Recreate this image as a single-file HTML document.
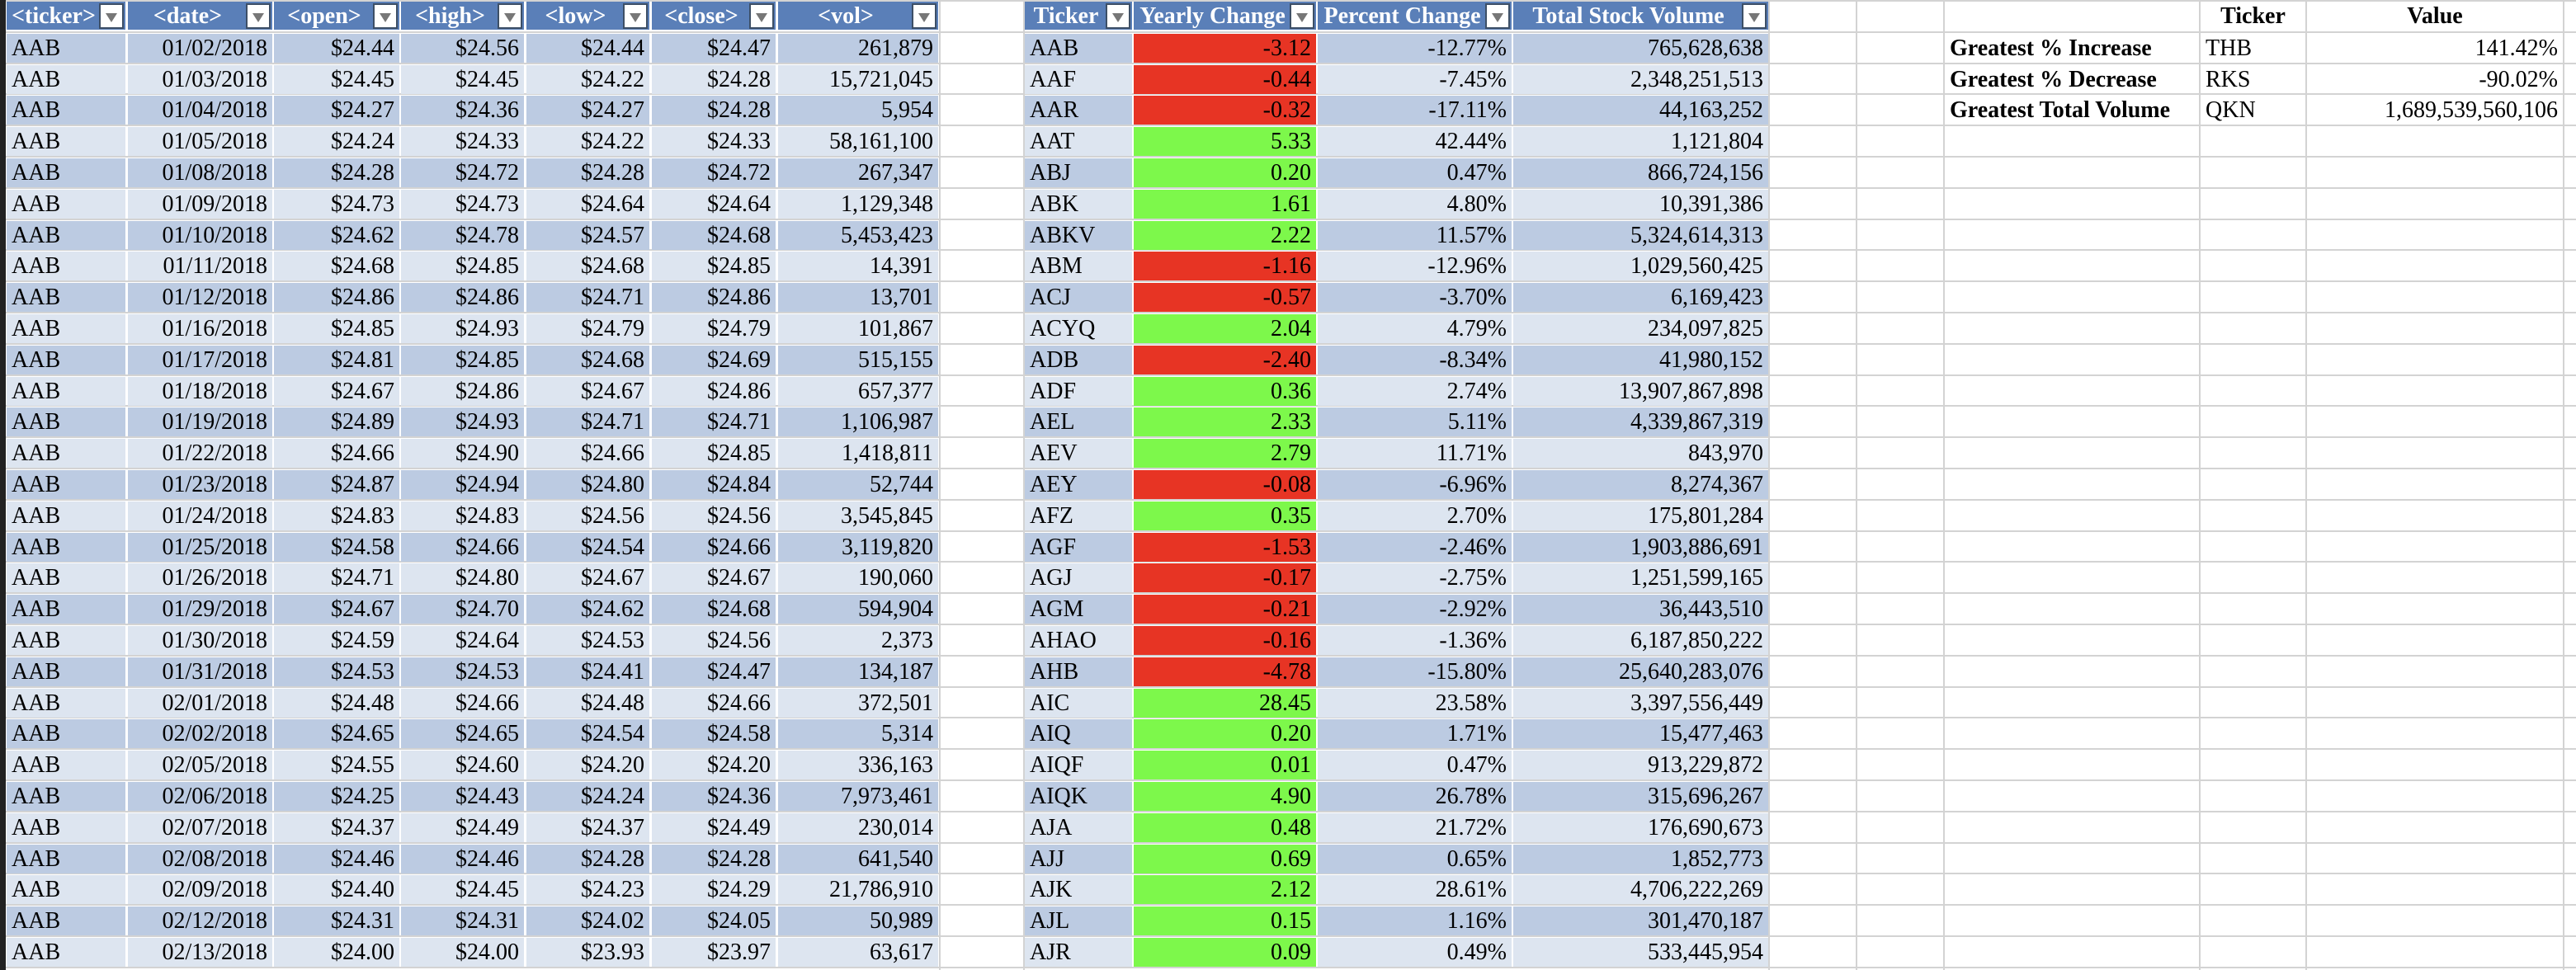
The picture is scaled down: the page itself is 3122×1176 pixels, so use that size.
<!DOCTYPE html>
<html><head><meta charset="utf-8"><style>
body{margin:0;width:3122px;height:1176px;overflow:hidden;background:#fff;font-family:"Liberation Serif",serif;position:relative}
.c{position:absolute;box-sizing:border-box;font-size:28px;line-height:35px;white-space:nowrap;overflow:hidden;color:#000;padding:0 6px}
.r{text-align:right}
.h{background:#5a7fb8;color:#fff;font-weight:bold;text-align:center;padding-right:36px}
.dd{position:absolute;width:30px;height:31px;background:#fff;border:2px solid #3d4f66;box-sizing:border-box;top:2px}
.dd:after{content:"";position:absolute;left:6px;top:10px;border-left:7px solid transparent;border-right:7px solid transparent;border-top:11px solid #777}
.g{position:absolute;background:#d3d3d3}
</style></head><body>
<div class="g" style="left:0;top:0;width:7px;height:1176px;background:#222"></div>
<script>
const leftTickers=Array(30).fill('AAB');
const dates=['01/02/2018','01/03/2018','01/04/2018','01/05/2018','01/08/2018','01/09/2018','01/10/2018','01/11/2018','01/12/2018','01/16/2018','01/17/2018','01/18/2018','01/19/2018','01/22/2018','01/23/2018','01/24/2018','01/25/2018','01/26/2018','01/29/2018','01/30/2018','01/31/2018','02/01/2018','02/02/2018','02/05/2018','02/06/2018','02/07/2018','02/08/2018','02/09/2018','02/12/2018','02/13/2018'];
const opens=['24.44','24.45','24.27','24.24','24.28','24.73','24.62','24.68','24.86','24.85','24.81','24.67','24.89','24.66','24.87','24.83','24.58','24.71','24.67','24.59','24.53','24.48','24.65','24.55','24.25','24.37','24.46','24.40','24.31','24.00'];
const highs=['24.56','24.45','24.36','24.33','24.72','24.73','24.78','24.85','24.86','24.93','24.85','24.86','24.93','24.90','24.94','24.83','24.66','24.80','24.70','24.64','24.53','24.66','24.65','24.60','24.43','24.49','24.46','24.45','24.31','24.00'];
const lows=['24.44','24.22','24.27','24.22','24.28','24.64','24.57','24.68','24.71','24.79','24.68','24.67','24.71','24.66','24.80','24.56','24.54','24.67','24.62','24.53','24.41','24.48','24.54','24.20','24.24','24.37','24.28','24.23','24.02','23.93'];
const closes=['24.47','24.28','24.28','24.33','24.72','24.64','24.68','24.85','24.86','24.79','24.69','24.86','24.71','24.85','24.84','24.56','24.66','24.67','24.68','24.56','24.47','24.66','24.58','24.20','24.36','24.49','24.28','24.29','24.05','23.97'];
const vols=['261,879','15,721,045','5,954','58,161,100','267,347','1,129,348','5,453,423','14,391','13,701','101,867','515,155','657,377','1,106,987','1,418,811','52,744','3,545,845','3,119,820','190,060','594,904','2,373','134,187','372,501','5,314','336,163','7,973,461','230,014','641,540','21,786,910','50,989','63,617'];
const tickers=['AAB','AAF','AAR','AAT','ABJ','ABK','ABKV','ABM','ACJ','ACYQ','ADB','ADF','AEL','AEV','AEY','AFZ','AGF','AGJ','AGM','AHAO','AHB','AIC','AIQ','AIQF','AIQK','AJA','AJJ','AJK','AJL','AJR'];
const yearly=[-3.12,-0.44,-0.32,5.33,0.20,1.61,2.22,-1.16,-0.57,2.04,-2.40,0.36,2.33,2.79,-0.08,0.35,-1.53,-0.17,-0.21,-0.16,-4.78,28.45,0.20,0.01,4.90,0.48,0.69,2.12,0.15,0.09];
const pct=['-12.77%','-7.45%','-17.11%','42.44%','0.47%','4.80%','11.57%','-12.96%','-3.70%','4.79%','-8.34%','2.74%','5.11%','11.71%','-6.96%','2.70%','-2.46%','-2.75%','-2.92%','-1.36%','-15.80%','23.58%','1.71%','0.47%','26.78%','21.72%','0.65%','28.61%','1.16%','0.49%'];
const totals=['765,628,638','2,348,251,513','44,163,252','1,121,804','866,724,156','10,391,386','5,324,614,313','1,029,560,425','6,169,423','234,097,825','41,980,152','13,907,867,898','4,339,867,319','843,970','8,274,367','175,801,284','1,903,886,691','1,251,599,165','36,443,510','6,187,850,222','25,640,283,076','3,397,556,449','15,477,463','913,229,872','315,696,267','176,690,673','1,852,773','4,706,222,269','301,470,187','533,445,954'];
const P=37.8, rowTop=i=>1+i*P;
function add(cls,x,y,w,h,txt,bg,name,inter){
  const d=document.createElement('div');d.className='c '+cls;
  d.style.cssText=`left:${x}px;top:${y}px;width:${w}px;height:${h}px;`+(bg?`background:${bg};`:'');
  d.textContent=txt;
  
  
  document.body.appendChild(d);return d;
}
const vx=[1138,1240,2143,2249,2355,2665,2794,3106];
for(const x of vx){const g=document.createElement('div');g.className='g';g.style.cssText=`left:${x}px;top:0;width:2px;height:1176px`;

document.body.appendChild(g);}
for(let i=0;i<=31;i++){const g=document.createElement('div');g.className='g';g.style.cssText=`left:7px;top:${Math.round(rowTop(i))-1}px;width:3115px;height:2px`;

document.body.appendChild(g);}
function table(cols,hdrs,data,prefix){
  cols.forEach((c,j)=>{
    const h=add('h',c[0],2,c[1]-c[0],34,hdrs[j],null,prefix+'-header-'+j,false);
    const dd=document.createElement('div');dd.className='dd';dd.style.left=(c[1]-c[0]-32)+'px';
    
    h.appendChild(dd);
  });
  for(let i=0;i<30;i++){
    const y=rowTop(i+1)+2, bg=i%2===0?'#bccbe2':'#dde5f0';
    cols.forEach((c,j)=>{
      let v=data[j][i], b=bg;
      if(c[2]==='yc'){b=v<0?'#e73424':'#7df84b';v=v.toFixed(2);}
      add(j===0?'':'r',c[0],y,c[1]-c[0],35,v,b,prefix+'-cell',false);
    });
  }
}
table([[8,152],[155,330],[332,484],[486,635],[638,787],[790,940],[943,1137]],
 ['<ticker>','<date>','<open>','<high>','<low>','<close>','<vol>'],
 [leftTickers,dates,opens.map(v=>'$'+v),highs.map(v=>'$'+v),lows.map(v=>'$'+v),closes.map(v=>'$'+v),vols],'stock-data');
table([[1242,1372],[1374,1595],[1597,1832],[1834,2143,'']].map((c,j)=>j===1?[c[0],c[1],'yc']:c),
 ['Ticker','Yearly Change','Percent Change','Total Stock Volume'],
 [tickers,yearly,pct,totals],'summary');
const gl=['Greatest % Increase','Greatest % Decrease','Greatest Total Volume'],gt=['THB','RKS','QKN'],gv=['141.42%','-90.02%','1,689,539,560,106'];
add('',2667,2,127,35,'Ticker',null,'greatest-ticker-header',false).style.cssText+='font-weight:bold;text-align:center';
add('',2796,2,310,35,'Value',null,'greatest-value-header',false).style.cssText+='font-weight:bold;text-align:center';
for(let i=0;i<3;i++){const y=rowTop(i+1)+2;
 add('',2357,y,308,35,gl[i],null,'greatest-label',false).style.fontWeight='bold';
 add('',2667,y,127,35,gt[i],null,'greatest-ticker',false);
 add('r',2796,y,310,35,gv[i],null,'greatest-value',false);}
</script>
</body></html>
